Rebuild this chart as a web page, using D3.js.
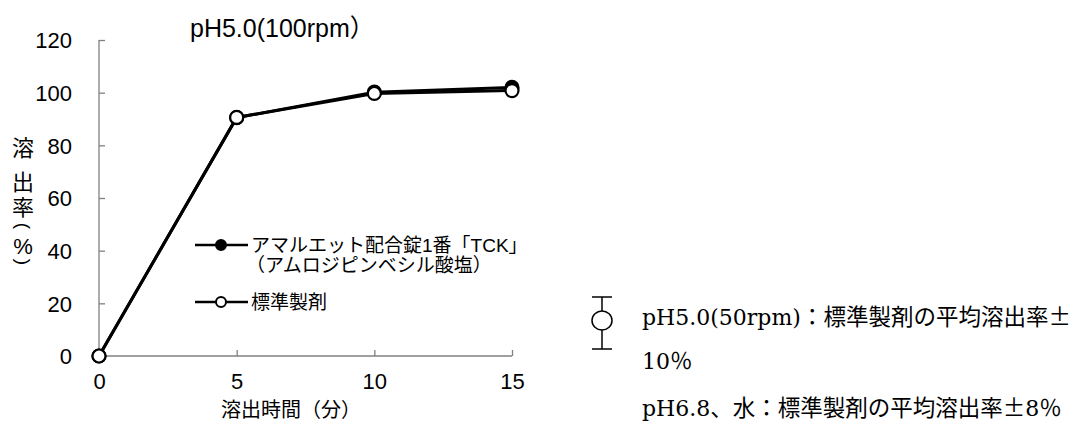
<!DOCTYPE html>
<html>
<head>
<meta charset="utf-8">
<script src="https://cdn.jsdelivr.net/npm/d3@7"></script>
<style>
  body { margin: 0; background: #fff; }
  svg { display: block; }
  .sans { font-family: "Liberation Sans", Arial, "Noto Sans CJK JP", sans-serif; fill: #000; }
  .serif { font-family: "DejaVu Serif", "Noto Sans CJK JP", serif; fill: #000; }
  .cjk { font-family: "Noto Sans CJK JP", sans-serif; }
</style>
</head>
<body>
<div id="chart"></div>
<script>
// dissolution data, pH5.0 (100rpm)
const minutes = [0, 5, 10, 15];
const testValues = [0, 90.5, 100.2, 102.0];   // アマルエット配合錠1番「TCK」
const refValues = [0, 90.6, 99.7, 100.8];     // 標準製剤
const yTicks = [0, 20, 40, 60, 80, 100, 120];
const xTicks = [0, 5, 10, 15];
const seriesNames = ["アマルエット配合錠1番「TCK」", "標準製剤"];
const yLabelChars = ["溶", "出", "率", "(", "%", ")"];
const yLabelPos = [148.7, 182.3, 207, 226, 246, 262];
const noteLines = [
    ["pH5.0(50rpm)", "：標準製剤の平均溶出率±"],
    ["10", "％"],
    ["pH6.8", "、水：標準製剤の平均溶出率±", "8", "％"]
];

const svg = d3.select("#chart").append("svg")
    .attr("width", 1078).attr("height", 421);

const margin = {top: 40, left: 99},
    plotW = 413, plotH = 316;

const g = svg.append("g")
    .attr("transform", "translate(" + margin.left + "," + margin.top + ")");

let x = d3.scaleLinear().domain([0, 15]).range([0, plotW]),
    y = d3.scaleLinear().domain([0, 120]).range([plotH, 0]);

// axes, ticks pointing inward
let yAxis = g.append("g")
    .call(d3.axisLeft(y).tickValues(yTicks).tickSize(-6).tickPadding(27));
let xAxis = g.append("g")
    .attr("transform", "translate(0," + plotH + ")")
    .call(d3.axisBottom(x).tickValues(xTicks).tickSize(-6).tickPadding(17));

[yAxis, xAxis].forEach(function (a) {
    a.select(".domain").attr("stroke", "#808080").attr("stroke-width", 1.3);
    a.selectAll(".tick line").attr("stroke", "#808080").attr("stroke-width", 1.3);
    a.selectAll(".tick text").attr("class", "sans").style("font-size", "22px").attr("fill", "#000");
});
yAxis.selectAll(".tick text").attr("dy", "0.36em");
yAxis.select(".domain").attr("d", "M0," + plotH + "V0");
xAxis.select(".domain").attr("d", "M0,0H" + plotW);

let line = d3.line()
    .x(function (d) { return x(d.t); })
    .y(function (d) { return y(d.v); });

let series = [
    {name: seriesNames[0], fill: "#000", values: minutes.map(function (t, i) { return {t: t, v: testValues[i]}; })},
    {name: seriesNames[1], fill: "#fff", values: minutes.map(function (t, i) { return {t: t, v: refValues[i]}; })}
];

series.forEach(function (s) {
    g.append("path")
        .attr("d", line(s.values))
        .attr("fill", "none")
        .attr("stroke", "#000")
        .attr("stroke-width", 3);
});
series.forEach(function (s) {
    g.selectAll(null)
        .data(s.values)
        .enter().append("circle")
        .attr("cx", function (d) { return x(d.t); })
        .attr("cy", function (d) { return y(d.v); })
        .attr("r", 6.5)
        .attr("fill", s.fill)
        .attr("stroke", "#000")
        .attr("stroke-width", 2.2);
});

// title
svg.append("text").attr("class", "sans")
    .attr("x", 190).attr("y", 37)
    .style("font-size", "25px")
    .text("pH5.0(100rpm）");

// y label, stacked vertical; parentheses turned sideways
svg.append("g").selectAll("text")
    .data(yLabelChars)
    .enter().append("text")
    .attr("class", "sans")
    .attr("x", 23)
    .attr("y", function (d, i) { return yLabelPos[i]; })
    .attr("dominant-baseline", "central")
    .attr("text-anchor", "middle")
    .attr("transform", function (d, i) {
        return (d === "(" || d === ")") ? "rotate(90,23," + yLabelPos[i] + ")" : null;
    })
    .style("font-size", function (d) { return (d === "(" || d === ")") ? "19px" : "22px"; })
    .text(function (d) { return d; });

// x label
svg.append("text").attr("class", "sans")
    .attr("x", 291).attr("y", 410)
    .attr("dominant-baseline", "central")
    .attr("text-anchor", "middle")
    .style("font-size", "20px")
    .text("溶出時間（分）");

// legend
let legendY = [245, 302];
let leg = svg.append("g");
series.forEach(function (s, i) {
    leg.append("line")
        .attr("x1", 195).attr("x2", 248)
        .attr("y1", legendY[i]).attr("y2", legendY[i])
        .attr("stroke", "#000").attr("stroke-width", 2.5);
    leg.append("circle")
        .attr("cx", 221).attr("cy", legendY[i]).attr("r", 5)
        .attr("fill", s.fill).attr("stroke", "#000").attr("stroke-width", 2);
    leg.append("text").attr("class", "sans")
        .attr("x", 251).attr("y", legendY[i])
        .attr("dominant-baseline", "central")
        .style("font-size", "19px")
        .text(s.name);
});
leg.append("text").attr("class", "sans")
    .attr("x", 246).attr("y", legendY[0] + 20)
    .attr("dominant-baseline", "central")
    .style("font-size", "19px")
    .text("（アムロジピンベシル酸塩）");

// error bar symbol and notes
let eb = svg.append("g").attr("transform", "translate(602,0)");
eb.append("line").attr("x1", -10).attr("x2", 10).attr("y1", 297).attr("y2", 297).attr("stroke", "#000").attr("stroke-width", 1.5);
eb.append("line").attr("x1", -10).attr("x2", 10).attr("y1", 349).attr("y2", 349).attr("stroke", "#000").attr("stroke-width", 1.5);
eb.append("line").attr("x1", 0).attr("x2", 0).attr("y1", 297).attr("y2", 311).attr("stroke", "#000").attr("stroke-width", 1.5);
eb.append("line").attr("x1", 0).attr("x2", 0).attr("y1", 330).attr("y2", 349).attr("stroke", "#000").attr("stroke-width", 1.5);
eb.append("ellipse").attr("cx", 0).attr("cy", 320.5).attr("rx", 10).attr("ry", 9.5)
    .attr("fill", "#fff").attr("stroke", "#000").attr("stroke-width", 1.5);

let noteY = [325, 369, 416];
let notes = svg.append("g").selectAll("text")
    .data(noteLines)
    .enter().append("text")
    .attr("class", "serif")
    .attr("x", 642)
    .attr("y", function (d, i) { return noteY[i]; })
    .style("font-size", "22px");
notes.selectAll("tspan")
    .data(function (d) { return d; })
    .enter().append("tspan")
    .attr("class", function (d) { return /[^\x00-\x7f]/.test(d) ? "cjk" : null; })
    .style("font-size", function (d) { return /[^\x00-\x7f]/.test(d) ? "22.5px" : null; })
    .text(function (d) { return d; });
</script>
</body>
</html>
